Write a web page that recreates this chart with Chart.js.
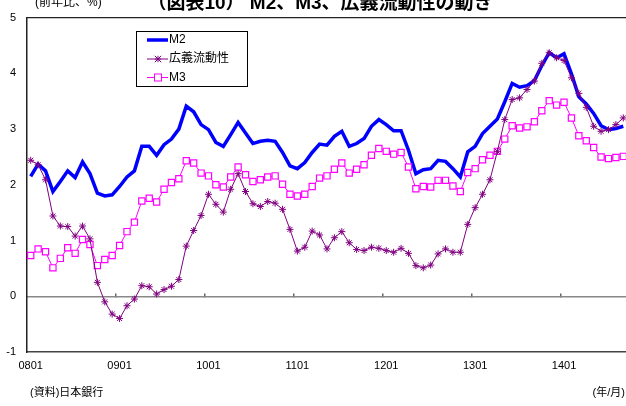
<!DOCTYPE html>
<html lang="ja">
<head>
<meta charset="UTF-8">
<title>M2、M3、広義流動性の動き</title>
<script src="https://cdn.jsdelivr.net/npm/chart.js"></script>
<style>
  body {
    margin: 0;
    width: 626px;
    height: 406px;
    overflow: hidden;
    position: relative;
    background: #fff;
    font-family: "Liberation Sans", "Noto Sans CJK JP", sans-serif;
  }
  #chart { position: absolute; left: 0; top: 0; }
  .note { position: absolute; white-space: nowrap; color: #000; }
  .title { left: 0; width: 640px; text-align: center; top: -7px; font-size: 19px; line-height: 19px; font-weight: bold; }
  .unit { left: 35px; top: -4px; font-size: 12px; line-height: 12px; }
  .source { left: 30px; top: 386px; font-size: 11px; line-height: 12px; }
  .period { right: 1px; top: 386px; font-size: 11px; line-height: 12px; }
</style>
</head>
<body>
<canvas id="chart" width="640" height="406"></canvas>
<div class="note title">（図表10） M2、M3、広義流動性の動き</div>
<div class="note unit">(前年比、%)</div>
<div class="note source">(資料)日本銀行</div>
<div class="note period">(年/月)</div>

<script>
// months, 2008/01 .. 2014/09
const months = [
  '0801','0802','0803','0804','0805','0806','0807','0808','0809','0810','0811','0812',
  '0901','0902','0903','0904','0905','0906','0907','0908','0909','0910','0911','0912',
  '1001','1002','1003','1004','1005','1006','1007','1008','1009','1010','1011','1012',
  '1101','1102','1103','1104','1105','1106','1107','1108','1109','1110','1111','1112',
  '1201','1202','1203','1204','1205','1206','1207','1208','1209','1210','1211','1212',
  '1301','1302','1303','1304','1305','1306','1307','1308','1309','1310','1311','1312',
  '1401','1402','1403','1404','1405','1406','1407','1408','1409'
];
const xTickLabels = ['0801', '0901', '1001', '1101', '1201', '1301', '1401'];
const yTicks = [-1, 0, 1, 2, 3, 4, 5];

// 前年比 (%)
const m2 = [
  2.15, 2.37, 2.25, 1.88, 2.06, 2.25, 2.13, 2.41, 2.20, 1.85, 1.80, 1.82,
  1.97, 2.14, 2.25, 2.69, 2.69, 2.53, 2.72, 2.82, 3.00, 3.41, 3.31, 3.08,
  2.99, 2.76, 2.69, 2.90, 3.12, 2.93, 2.74, 2.78, 2.80, 2.78, 2.58, 2.34,
  2.29, 2.40, 2.58, 2.73, 2.71, 2.87, 2.96, 2.69, 2.74, 2.83, 3.05, 3.17,
  3.08, 2.97, 2.97, 2.62, 2.20, 2.27, 2.29, 2.44, 2.42, 2.29, 2.14, 2.59,
  2.69, 2.92, 3.05, 3.18, 3.49, 3.82, 3.75, 3.78, 3.87, 4.14, 4.37, 4.28,
  4.35, 3.99, 3.58, 3.45, 3.28, 3.06, 2.99, 3.01, 3.05
];
const kogi = [
  2.44, 2.36, 2.09, 1.44, 1.26, 1.25, 1.08, 1.26, 1.03, 0.25, -0.10, -0.32,
  -0.40, -0.17, -0.05, 0.19, 0.17, 0.04, 0.12, 0.18, 0.30, 0.90, 1.18, 1.45,
  1.83, 1.65, 1.51, 1.92, 2.20, 1.88, 1.66, 1.61, 1.70, 1.67, 1.56, 1.20,
  0.81, 0.88, 1.17, 1.10, 0.85, 1.05, 1.16, 0.96, 0.84, 0.82, 0.88, 0.86,
  0.82, 0.79, 0.86, 0.77, 0.55, 0.51, 0.56, 0.76, 0.85, 0.79, 0.79, 1.29,
  1.59, 1.83, 2.09, 2.60, 3.17, 3.53, 3.56, 3.71, 3.86, 4.18, 4.37, 4.28,
  4.23, 3.92, 3.64, 3.39, 3.05, 2.96, 2.99, 3.08, 3.20
];
const m3 = [
  0.73, 0.85, 0.80, 0.51, 0.68, 0.87, 0.77, 1.02, 0.93, 0.55, 0.66, 0.73,
  0.91, 1.16, 1.33, 1.71, 1.76, 1.69, 1.92, 2.04, 2.11, 2.43, 2.39, 2.21,
  2.16, 2.00, 1.96, 2.14, 2.32, 2.18, 2.06, 2.09, 2.14, 2.16, 2.01, 1.83,
  1.80, 1.83, 1.97, 2.12, 2.16, 2.28, 2.39, 2.21, 2.28, 2.36, 2.53, 2.65,
  2.60, 2.55, 2.58, 2.32, 1.93, 1.97, 1.96, 2.08, 2.08, 1.98, 1.88, 2.22,
  2.29, 2.45, 2.53, 2.60, 2.82, 3.06, 3.02, 3.04, 3.13, 3.33, 3.51, 3.43,
  3.48, 3.20, 2.88, 2.79, 2.67, 2.50, 2.47, 2.49, 2.51
];

const FONT = '"Liberation Sans", "Noto Sans CJK JP", sans-serif';

// category index -> x value on the linear axis
function pts(values) {
  return values.map((v, i) => ({ x: i, y: v }));
}

// legend box inside the plot, like the Excel original
const legendBox = {
  id: 'legendBox',
  afterDatasetsDraw(chart) {
    const ctx = chart.ctx;
    const rows = [40, 59, 77.5];
    ctx.save();
    ctx.fillStyle = '#fff';
    ctx.fillRect(136.5, 31.5, 111, 55);
    ctx.strokeStyle = '#000';
    ctx.lineWidth = 1;
    ctx.strokeRect(136.5, 31.5, 111, 55);
    chart.data.datasets.forEach((ds, k) => {
      const y = rows[k];
      ctx.strokeStyle = ds.borderColor;
      ctx.lineWidth = ds.borderWidth;
      ctx.beginPath();
      ctx.moveTo(147, y);
      ctx.lineTo(168, y);
      ctx.stroke();
      ctx.lineWidth = 1;
      if (ds.pointStyle === 'rect') {
        ctx.fillStyle = '#fff';
        ctx.fillRect(154.5, y - 3.5, 7, 7);
        ctx.strokeRect(154.5, y - 3.5, 7, 7);
      } else if (ds.pointStyle === 'star') {
        const r = 3.2;
        ctx.beginPath();
        ctx.moveTo(158 - r, y - r); ctx.lineTo(158 + r, y + r);
        ctx.moveTo(158 - r, y + r); ctx.lineTo(158 + r, y - r);
        ctx.moveTo(158, y - r); ctx.lineTo(158, y + r);
        ctx.moveTo(158 - r, y); ctx.lineTo(158 + r, y);
        ctx.stroke();
      }
      ctx.fillStyle = '#000';
      ctx.font = '12px ' + FONT;
      ctx.textBaseline = 'middle';
      ctx.fillText(ds.label, 169, y);
    });
    ctx.restore();
  }
};

// top edge of the plot frame
const frameTop = {
  id: 'frameTop',
  beforeDatasetsDraw(chart) {
    const { ctx, chartArea } = chart;
    ctx.save();
    ctx.strokeStyle = '#222';
    ctx.lineWidth = 1.2;
    ctx.beginPath();
    ctx.moveTo(chartArea.left, chartArea.top);
    ctx.lineTo(chartArea.right, chartArea.top);
    ctx.stroke();
    ctx.restore();
  }
};

new Chart(document.getElementById('chart'), {
  type: 'line',
  data: {
    datasets: [
      {
        label: 'M2',
        data: pts(m2),
        xAxisID: 'x',
        borderColor: '#0000ff',
        borderWidth: 3.5,
        pointRadius: 0,
        order: 2
      },
      {
        label: '広義流動性',
        data: pts(kogi),
        xAxisID: 'x',
        borderColor: '#800080',
        borderWidth: 1,
        pointStyle: 'star',
        pointRadius: 3.5,
        pointBorderColor: '#800080',
        pointBorderWidth: 1,
        order: 0
      },
      {
        label: 'M3',
        data: pts(m3),
        xAxisID: 'x',
        borderColor: '#ff00ff',
        borderWidth: 1,
        pointStyle: 'rect',
        pointRadius: 4.4,
        pointBackgroundColor: '#ffffff',
        pointBorderColor: '#ff00ff',
        pointBorderWidth: 1.2,
        order: 1
      }
    ]
  },
  options: {
    responsive: false,
    animation: false,
    layout: { padding: { top: 17, right: 3, left: 0, bottom: 0 } },
    plugins: {
      legend: { display: false },
      tooltip: { enabled: false }
    },
    scales: {
      x: {
        type: 'linear',
        min: -0.5,
        max: 81.5,
        afterBuildTicks: s => { s.ticks = xTickLabels.map(l => ({ value: months.indexOf(l) })); },
        ticks: {
          callback: (v, i) => xTickLabels[i],
          autoSkip: false,
          maxRotation: 0,
          padding: 7,
          color: '#000',
          font: { family: FONT, size: 11 }
        },
        grid: { display: false, drawTicks: false },
        border: { color: '#444', width: 1.5 },
        afterFit: s => { s.height = 54; }
      },
      x2: {
        type: 'linear',
        axis: 'x',
        min: -0.5,
        max: 81.5,
        position: { y: 0 },
        afterBuildTicks: s => { s.ticks = xTickLabels.slice(1).map(l => ({ value: months.indexOf(l) - 0.5 })); },
        ticks: { display: false },
        grid: { drawOnChartArea: false, drawTicks: true, tickLength: -4, color: '#666', lineWidth: 1.5 },
        border: { color: '#888', width: 1.5 }
      },
      y: {
        min: -1,
        max: 5,
        afterBuildTicks: s => { s.ticks = yTicks.map(v => ({ value: v })); },
        ticks: {
          padding: 11,
          color: '#000',
          font: { family: FONT, size: 11 }
        },
        grid: { display: false, drawTicks: false },
        border: { color: '#222', width: 1.5 },
        afterFit: s => { s.width = 27; }
      }
    }
  },
  plugins: [frameTop, legendBox]
});
</script>
</body>
</html>
